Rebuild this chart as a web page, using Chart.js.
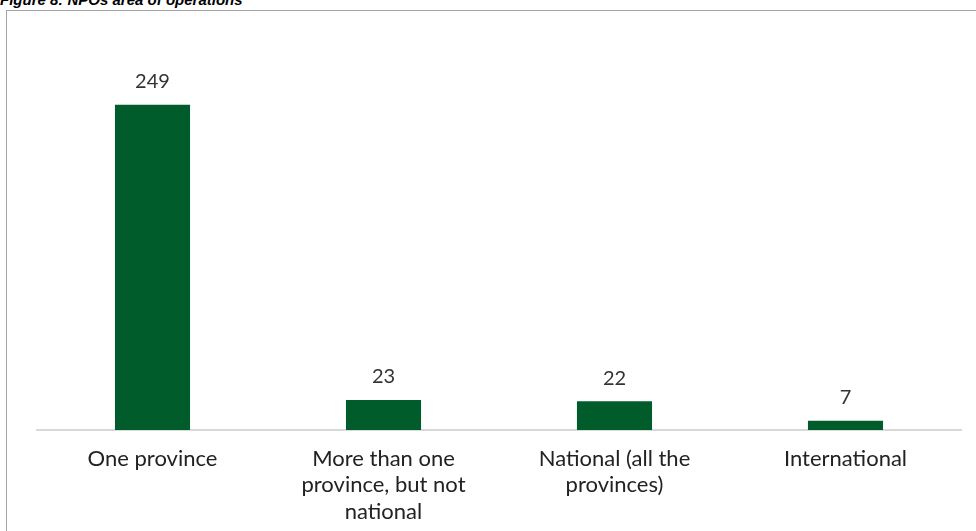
<!DOCTYPE html>
<html>
<head>
<meta charset="utf-8">
<script src="https://cdn.jsdelivr.net/npm/chart.js@4/dist/chart.umd.min.js"></script>
<style>
  html, body { margin: 0; padding: 0; background: #fff; overflow: hidden; }
  #wrap { position: relative; width: 976px; height: 531px; }
  #title { position: absolute; left: 0px; top: -8px; font: italic bold 15px "Liberation Sans", Arial, sans-serif; color: #000; line-height: 15px; white-space: nowrap; }
  #frame { position: absolute; left: 6px; top: 10px; width: 990px; height: 560px; border-left: 1px solid #a6a6a6; border-top: 1px solid #a6a6a6; }
  canvas { position: absolute; left: 0; top: 0; }
</style>
</head>
<body>
<div id="wrap">
  <div id="title">Figure 8: NPOs area of operations</div>
  <div id="frame"></div>
  <canvas id="areaChart" width="976" height="531"></canvas>
</div>
<script>
// Categories and counts
const categories = [
    ['One province'],
    ['More than one', 'province, but not', 'national'],
    ['National (all the', 'provinces)'],
    ['International']
];
const npoCounts = [249, 23, 22, 7];

// Draw the value above each bar
const valueLabels = {
    id: 'valueLabels',
    afterDatasetsDraw(chart) {
        const ctx = chart.ctx;
        const meta = chart.getDatasetMeta(0);
        ctx.save();
        ctx.font = '20px Lato, "Open Sans", sans-serif';
        ctx.fillStyle = '#333';
        ctx.textAlign = 'center';
        ctx.textBaseline = 'middle';
        meta.data.forEach((bar, i) => {
            ctx.fillText(npoCounts[i], bar.x, bar.y - 23);
        });
        ctx.restore();
    }
};

const ctx = document.getElementById('areaChart').getContext('2d');
new Chart(ctx, {
    type: 'bar',
    data: {
        labels: categories,
        datasets: [{
            label: 'NPOs',
            data: npoCounts,
            backgroundColor: '#005c2a',
            categoryPercentage: 1,
            barPercentage: 0.325
        }]
    },
    options: {
        responsive: false,
        animation: false,
        layout: { padding: { left: 37, right: 15, top: 38, bottom: 0 } },
        plugins: {
            legend: { display: false },
            tooltip: { enabled: false }
        },
        scales: {
            x: {
                grid: { display: false },
                border: { display: true, color: '#d9d9d9', width: 2 },
                ticks: {
                    color: '#222',
                    font: { family: 'Lato, "Open Sans", sans-serif', size: 22, lineHeight: 1.22 },
                    padding: 7,
                    maxRotation: 0,
                    autoSkip: false
                },
                afterFit(scale) { scale.height = 101; }
            },
            y: {
                display: false,
                min: 0,
                max: 300
            }
        }
    },
    plugins: [valueLabels]
});
</script>
</body>
</html>
